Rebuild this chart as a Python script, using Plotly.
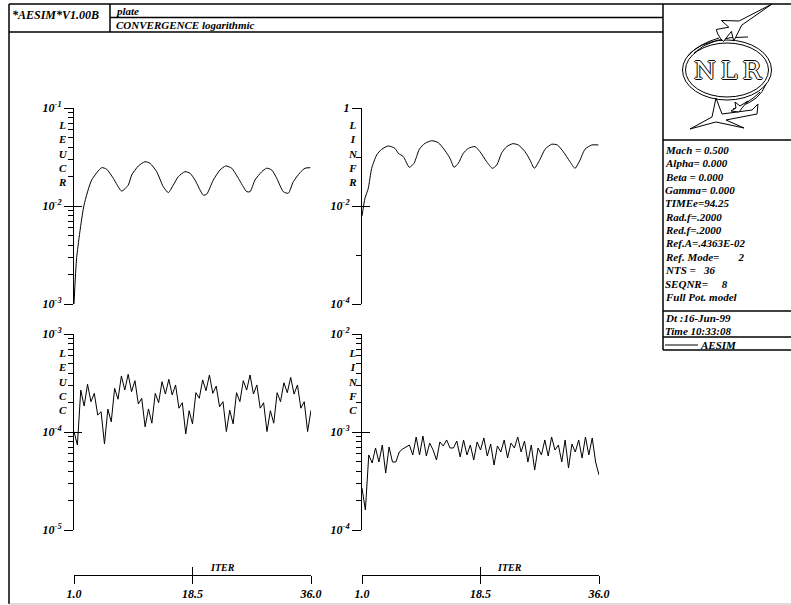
import plotly.graph_objects as go

W, H = 791, 605
FONT = "Liberation Serif"

# ---------------- data ----------------
# top-left: LEUCR (log residual), smooth curve
leucr_iter = [1.0, 1.4, 2.48, 3.61, 5.09, 5.83, 6.80, 8.04, 9.02, 9.52, 10.50, 11.49, 12.22,
              13.21, 14.19, 14.93, 15.67, 16.40, 17.39, 18.13, 18.87, 20.10, 20.60, 21.57,
              22.56, 23.40, 24.29, 25.27, 26.51, 27.0, 27.73, 28.72, 29.46, 30.20, 30.94,
              31.91, 32.65, 33.39, 34.38, 35.12, 35.9]
leucr = [1.0e-3, 3.0e-3, 1.02e-2, 1.84e-2, 2.46e-2, 2.37e-2, 1.92e-2, 1.42e-2, 1.64e-2,
         2.07e-2, 2.56e-2, 2.83e-2, 2.73e-2, 2.24e-2, 1.57e-2, 1.37e-2, 1.64e-2, 1.99e-2,
         2.24e-2, 2.16e-2, 1.84e-2, 1.29e-2, 1.32e-2, 1.84e-2, 2.33e-2, 2.56e-2, 2.43e-2,
         1.92e-2, 1.40e-2, 1.40e-2, 1.84e-2, 2.24e-2, 2.43e-2, 2.33e-2, 1.92e-2, 1.40e-2,
         1.35e-2, 1.77e-2, 2.19e-2, 2.43e-2, 2.46e-2]

# top-right: LINFR
linfr_iter = [1.0, 1.44, 1.93, 2.43, 3.17, 3.91, 4.89, 5.87, 6.36, 7.10, 7.99, 8.68, 9.47,
              10.30, 11.29, 12.27, 13.26, 14.0, 14.59, 15.22, 15.96, 16.70, 17.69, 18.43,
              19.42, 20.25, 20.90, 21.64, 22.38, 23.27, 24.09, 25.08, 25.81, 26.45, 27.29,
              28.03, 29.01, 29.85, 30.73, 31.72, 32.46, 33.20, 33.93, 34.92, 35.90]
linfr = [6.25e-3, 1.44e-2, 2.30e-2, 5.88e-2, 0.110, 0.144, 0.168, 0.150, 0.119, 0.102,
         0.0616, 0.0743, 0.144, 0.190, 0.215, 0.196, 0.135, 0.094, 0.0616, 0.0743,
         0.119, 0.150, 0.163, 0.128, 0.080, 0.0588, 0.0687, 0.122, 0.163, 0.187,
         0.176, 0.128, 0.0869, 0.0588, 0.0896, 0.144, 0.182, 0.176, 0.128, 0.080,
         0.0588, 0.0869, 0.144, 0.176, 0.176]

# bottom plots: half-iteration samples
half_iter = [1.0, 1.5, 2.0, 2.5, 3.0, 3.5, 4.0, 4.5, 5.0, 5.5, 6.0, 6.5, 7.0, 7.5, 8.0, 8.5,
             9.0, 9.5, 10.0, 10.5, 11.0, 11.5, 12.0, 12.5, 13.0, 13.5, 14.0, 14.5, 15.0,
             15.5, 16.0, 16.5, 17.0, 17.5, 18.0, 18.5, 19.0, 19.5, 20.0, 20.5, 21.0, 21.5,
             22.0, 22.5, 23.0, 23.5, 24.0, 24.5, 25.0, 25.5, 26.0, 26.5, 27.0, 27.5, 28.0,
             28.5, 29.0, 29.5, 30.0, 30.5, 31.0, 31.5, 32.0, 32.5, 33.0, 33.5, 34.0, 34.5,
             35.0, 35.5, 36.0]
leucc = [1.01e-4, 7.36e-5, 2.68e-4, 1.84e-4, 3.07e-4, 2.04e-4, 2.48e-4, 1.49e-4, 1.61e-4, 7.55e-5,
         1.71e-4, 1.27e-4, 2.79e-4, 2.16e-4, 3.73e-4, 2.68e-4, 3.88e-4, 2.58e-4, 3.34e-4, 1.93e-4,
         2.21e-4, 1.13e-4, 1.72e-4, 1.23e-4, 2.48e-4, 1.99e-4, 3.26e-4, 2.44e-4, 3.45e-4, 2.39e-4,
         3.02e-4, 1.75e-4, 1.99e-4, 9.55e-5, 1.65e-4, 1.21e-4, 2.52e-4, 2.21e-4, 3.40e-4, 2.64e-4,
         3.82e-4, 2.48e-4, 2.94e-4, 1.81e-4, 2.04e-4, 1.01e-4, 1.67e-4, 1.21e-4, 2.52e-4, 2.04e-4,
         3.34e-4, 2.68e-4, 3.82e-4, 2.44e-4, 3.02e-4, 1.75e-4, 1.99e-4, 1.01e-4, 1.65e-4, 1.23e-4,
         2.52e-4, 2.04e-4, 3.18e-4, 2.52e-4, 3.61e-4, 2.44e-4, 3.02e-4, 1.75e-4, 2.04e-4, 1.01e-4,
         1.67e-4]
linfc = [2.68e-4, 1.60e-4, 5.83e-4, 4.83e-4, 6.87e-4, 4.94e-4, 7.37e-4, 3.81e-4, 7.03e-4, 4.94e-4,
         4.94e-4, 6.25e-4, 6.70e-4, 7.03e-4, 7.37e-4, 5.83e-4, 8.89e-4, 5.83e-4, 9.10e-4, 5.69e-4,
         7.70e-4, 6.55e-4, 5.18e-4, 7.91e-4, 7.20e-4, 8.29e-4, 6.87e-4, 6.87e-4, 8.09e-4, 5.56e-4,
         8.29e-4, 5.83e-4, 7.37e-4, 5.18e-4, 7.91e-4, 6.55e-4, 8.69e-4, 5.69e-4, 7.54e-4, 4.60e-4,
         7.20e-4, 6.25e-4, 8.29e-4, 5.43e-4, 7.70e-4, 6.87e-4, 8.89e-4, 6.25e-4, 8.09e-4, 4.94e-4,
         7.37e-4, 4.09e-4, 6.87e-4, 5.83e-4, 8.29e-4, 5.69e-4, 8.89e-4, 6.55e-4, 7.37e-4, 4.94e-4,
         8.29e-4, 4.29e-4, 7.54e-4, 6.25e-4, 8.29e-4, 5.43e-4, 8.89e-4, 5.83e-4, 8.69e-4, 4.94e-4,
         3.64e-4]

x_tickvals = [1.0, 18.5, 36.0]
x_ticktext = ["1.0", "18.5", "36.0"]
axis_letters = {"tl": "LEUCR", "tr": "LINFR", "bl": "LEUCC", "br": "LINFC"}
params = ["Mach = 0.500", "Alpha= 0.000", "Beta = 0.000", "Gamma= 0.000", "TIMEe=94.25",
          "Rad.f=.2000", "Red.f=.2000", "Ref.A=.4363E-02",
          "Ref. Mode=\u00a0\u00a0\u00a0\u00a0\u00a0\u00a0 2", "NTS =\u00a0\u00a0 36",
          "SEQNR=\u00a0\u00a0\u00a0\u00a0 8", "Full Pot. model"]
stamp = ["Dt :16-Jun-99", "Time 10:33:08"]

# ---------------- helpers ----------------
def fx(px):
    return px / W

def fy(py):
    return 1 - py / H

def bi(s):
    return "<b><i>" + s + "</i></b>"

def sup(e):
    return bi("10<sup>%d</sup>" % e)

tfont = dict(family=FONT, size=12, color="black")

XL = [fx(74), fx(311)]
XR = [fx(362), fx(599)]
YT = [fy(304), fy(108)]
YB = [fy(530), fy(334)]
XPOS = fy(575)

def minor_vals(e0, e1):
    return [m * 10.0 ** e for e in range(e0, e1) for m in range(2, 10)]

def yax(domain, rng, tv, tt, minor):
    return dict(domain=domain, type="log", range=rng, tickmode="array", tickvals=tv,
                ticktext=tt, ticks="outside", ticklen=9, tickwidth=1, tickcolor="black",
                showline=True, linecolor="black", linewidth=1, showgrid=False,
                zeroline=False, tickfont=tfont, automargin=False,
                minor=dict(tickmode="array", tickvals=minor, ticks="outside", ticklen=5,
                           tickwidth=1, tickcolor="black", showgrid=False))

def yover(over, anchor, rng, tv):
    return dict(overlaying=over, anchor=anchor, type="log", range=rng, tickmode="array",
                tickvals=tv, ticks="inside", ticklen=8, tickwidth=1, tickcolor="black",
                showticklabels=False, showline=False, showgrid=False, zeroline=False,
                automargin=False)

def xax(domain, visible=True):
    d = dict(domain=domain, range=[1, 36], showgrid=False, zeroline=False, automargin=False)
    if not visible:
        d["visible"] = False
        return d
    d.update(anchor="free", position=XPOS, tickmode="array", tickvals=x_tickvals,
             ticktext=[bi(t) for t in x_ticktext], ticks="outside", ticklen=8, tickwidth=1,
             tickcolor="black", showline=True, linecolor="black", linewidth=1,
             tickfont=tfont)
    return d

def xover(over):
    return dict(overlaying=over, anchor="free", position=XPOS, range=[1, 36],
                tickmode="array", tickvals=x_tickvals, ticks="inside", ticklen=8,
                tickwidth=1, tickcolor="black", showticklabels=False, showline=False,
                showgrid=False, zeroline=False, automargin=False)

# ---------------- figure ----------------
fig = go.Figure()
line = dict(color="black", width=1)
fig.add_trace(go.Scatter(x=leucr_iter, y=leucr, mode="lines", line=dict(color="black", width=1, shape="spline", smoothing=0.6), xaxis="x", yaxis="y"))
fig.add_trace(go.Scatter(x=linfr_iter, y=linfr, mode="lines", line=dict(color="black", width=1, shape="spline", smoothing=0.6), xaxis="x2", yaxis="y2"))
fig.add_trace(go.Scatter(x=half_iter, y=leucc, mode="lines", line=line, xaxis="x3", yaxis="y3"))
fig.add_trace(go.Scatter(x=half_iter, y=linfc, mode="lines", line=line, xaxis="x4", yaxis="y4"))
# carriers for the overlay tick axes
for xa, ya in [("x", "y5"), ("x2", "y6"), ("x3", "y7"), ("x4", "y8"), ("x5", "y3"), ("x6", "y4")]:
    fig.add_trace(go.Scatter(x=[None], y=[None], mode="lines", xaxis=xa, yaxis=ya,
                             hoverinfo="skip", showlegend=False))

fig.update_layout(
    width=W, height=H, autosize=False,
    margin=dict(l=0, r=0, t=0, b=0, pad=0, autoexpand=False),
    paper_bgcolor="white", plot_bgcolor="rgba(0,0,0,0)", showlegend=False,
    xaxis=xax(XL, False), xaxis2=xax(XR, False), xaxis3=xax(XL), xaxis4=xax(XR),
    xaxis5=xover("x3"), xaxis6=xover("x4"),
    yaxis=yax(YT, [-3, -1], [1e-3, 1e-2, 1e-1], [sup(-3), sup(-2), sup(-1)], minor_vals(-3, -1)),
    yaxis2=yax(YT, [-4, 0], [1e-4, 1e-2, 1], [sup(-4), sup(-2), bi("1")], [1e-3, 1e-1]),
    yaxis3=yax(YB, [-5, -3], [1e-5, 1e-4, 1e-3], [sup(-5), sup(-4), sup(-3)], minor_vals(-5, -3)),
    yaxis4=yax(YB, [-4, -2], [1e-4, 1e-3, 1e-2], [sup(-4), sup(-3), sup(-2)], minor_vals(-4, -2)),
    yaxis5=yover("y", "x", [-3, -1], [1e-3, 1e-2, 1e-1]),
    yaxis6=yover("y2", "x2", [-4, 0], [1e-4, 1e-2, 1]),
    yaxis7=yover("y3", "x3", [-5, -3], [1e-5, 1e-4, 1e-3]),
    yaxis8=yover("y4", "x4", [-4, -2], [1e-4, 1e-3, 1e-2]),
)
fig.layout.xaxis.anchor = "y"
fig.layout.xaxis2.anchor = "y2"
fig.layout.yaxis.anchor = "x"
fig.layout.yaxis2.anchor = "x2"
fig.layout.yaxis3.anchor = "x3"
fig.layout.yaxis4.anchor = "x4"

# ---------------- frame & decorations ----------------
shapes = []
LW = 1.5

def seg(x0, y0, x1, y1, w=LW, color="black"):
    shapes.append(dict(type="line", xref="paper", yref="paper", x0=fx(x0), y0=fy(y0),
                       x1=fx(x1), y1=fy(y1), line=dict(color=color, width=w)))

seg(9, 4, 791, 4)            # top
seg(9, 4, 9, 604)            # left
seg(9, 604, 791, 604, 1, "#bbbbbb")  # bottom
seg(110, 17.5, 663, 17.5)
seg(9, 32, 663, 32)
seg(110, 4, 110, 32)
seg(663, 4, 663, 350)
for yy in (140, 311, 337, 350):
    seg(663, yy, 791, yy)
seg(665, 345, 698, 345, 1)   # legend line for AESIM

def path(cmds):
    out = []
    for c in cmds:
        if c[0] == "Z":
            out.append("Z")
        else:
            op = c[0]
            pts = c[1:]
            if op == "L":
                for i in range(0, len(pts), 2):
                    out.append("L %.5f,%.5f" % (fx(pts[i]), fy(pts[i + 1])))
            else:
                coords = " ".join("%.5f,%.5f" % (fx(pts[i]), fy(pts[i + 1])) for i in range(0, len(pts), 2))
                out.append(op + " " + coords)
    return " ".join(out)

def pshape(cmds, fill="white", w=1):
    shapes.append(dict(type="path", xref="paper", yref="paper", path=path(cmds),
                       fillcolor=fill, line=dict(color="black", width=w)))

# logo ellipses
for rx, ry in ((44.5, 30), (41.5, 27)):
    shapes.append(dict(type="circle", xref="paper", yref="paper", x0=fx(727 - rx), x1=fx(727 + rx),
                       y0=fy(70 + ry), y1=fy(70 - ry), line=dict(color="black", width=1)))
# swooshes
pshape([("M", 719, 38), ("Q", 698, 44, 688, 56)], fill="rgba(0,0,0,0)")
pshape([("M", 748, 37), ("Q", 712, 36, 694, 53)], fill="rgba(0,0,0,0)")
pshape([("M", 766, 84), ("Q", 760, 100, 741, 106)], fill="rgba(0,0,0,0)")
pshape([("M", 760, 92), ("Q", 748, 104, 733, 109)], fill="rgba(0,0,0,0)")
# upper jet
pshape([("M", 772, 4), ("L", 739.1, 21.0, 721.4, 20.5, 728.8, 27.2, 716.3, 29.5, 717.7, 33.9,
                         720.3, 38.1, 723.5, 41.5, 731.4, 31.4, 733.8, 41.1, 741.7, 25.2), ("Z",)])
# lower big plane
pshape([("M", 690, 129), ("L", 712, 117, 716, 98, 722, 114, 752, 110, 758, 104, 757, 114,
                         726, 120, 744, 128, 716, 122), ("Z",)])
# small plane
pshape([("M", 748, 101), ("L", 740, 106, 735, 102, 736, 108, 731, 111, 739, 112, 742, 108), ("Z",)])

# ---------------- texts ----------------
ann = []

def txt(px, py, s, size=11, xanchor="left", yanchor="middle", **kw):
    ann.append(dict(x=fx(px), y=fy(py), xref="paper", yref="paper", text=bi(s), showarrow=False,
                    xanchor=xanchor, yanchor=yanchor,
                    font=dict(family=FONT, size=size, color="black"), **kw))

txt(10, 15, "*AESIM*V1.00B", 12)
txt(114, 11, "plate", 11)
txt(114, 25, "CONVERGENCE logarithmic", 11)

for i, s in enumerate(params):
    txt(663, 150 + i * 13.35, s, 11)
txt(663, 318, stamp[0], 11)
txt(663, 331, stamp[1], 11)
txt(698, 345, "AESIM", 11)

for key, (px, py) in {"tl": (63, 154), "tr": (353, 154), "bl": (63, 381), "br": (353, 381)}.items():
    txt(px, py, "<br>".join(axis_letters[key]), 11, xanchor="center", align="center")

txt(222, 567, "ITER", 10, xanchor="center")
txt(510, 567, "ITER", 10, xanchor="center")

# NLR lettering (outlined)
ann.append(dict(x=fx(728), y=fy(70), xref="paper", yref="paper", text="N\u2009L\u2009R", showarrow=False,
                xanchor="center", yanchor="middle",
                font=dict(family="DejaVu Serif", size=25, color="white",
                          shadow="1px 0 0 black, -1px 0 0 black, 0 1px 0 black, 0 -1px 0 black")))

fig.update_layout(shapes=shapes, annotations=ann)
fig.write_html("out.html", post_script="document.body.style.margin='0px';document.body.style.padding='0px';")
